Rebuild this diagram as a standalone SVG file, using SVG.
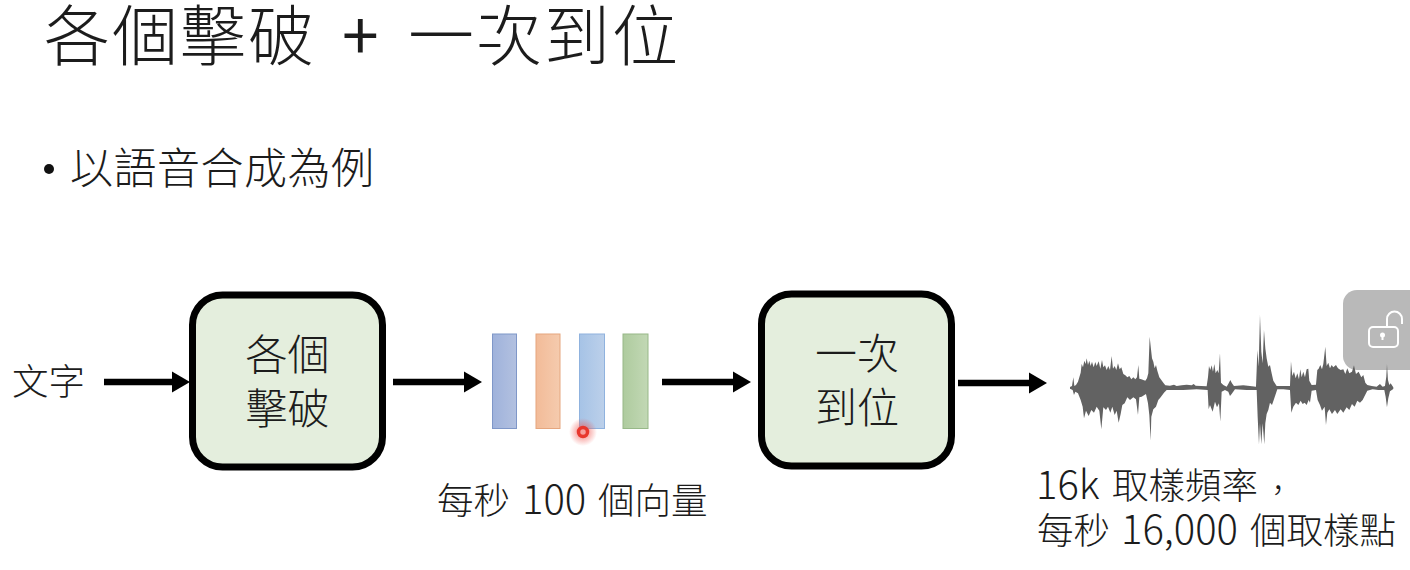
<svg xmlns="http://www.w3.org/2000/svg" width="1410" height="570" viewBox="0 0 1410 570">
<style>
text{font-family:"Noto Sans CJK TC","Noto Sans CJK SC",sans-serif;fill:#1c1c1c;font-weight:300}
.box{fill:#e4eedd;stroke:#000;stroke-width:7}
.node{font-size:42px;text-anchor:middle}
.lab{font-size:36.500px}
.num{font-size:40px}
.arr{stroke:#000;stroke-width:6.500;fill:none;marker-end:url(#ah)}
</style>
<defs>
<marker id="ah" markerUnits="userSpaceOnUse" markerWidth="19" markerHeight="22" refX="1" refY="11" orient="auto"><path d="M0 0.500L18 11L0 21.500Z" fill="#000"/></marker>
<linearGradient id="g1"><stop offset="0" stop-color="#9fb2db"/><stop offset="1" stop-color="#b3c1e0"/></linearGradient>
<linearGradient id="g2"><stop offset="0" stop-color="#f2bb98"/><stop offset="1" stop-color="#f5cbae"/></linearGradient>
<linearGradient id="g3"><stop offset="0" stop-color="#a6c3e6"/><stop offset="1" stop-color="#bcd0ea"/></linearGradient>
<linearGradient id="g4"><stop offset="0" stop-color="#aecb9e"/><stop offset="1" stop-color="#c2d8b5"/></linearGradient>
<radialGradient id="glow"><stop offset="0.3" stop-color="#f0504a" stop-opacity=".55"/><stop offset="1" stop-color="#f0504a" stop-opacity="0"/></radialGradient>
<filter id="soft" x="-5%" y="-5%" width="110%" height="110%"><feGaussianBlur stdDeviation="0.9"/></filter>
</defs>

<g id="title"><text x="44" y="60" font-size="66" letter-spacing="2">各個擊破</text><text x="342" y="60" font-size="66" style="font-weight:400">+</text><text x="408" y="60" font-size="66" letter-spacing="2">一次到位</text></g>
<g id="bullet"><circle cx="49" cy="169" r="5" fill="#111"/><text x="70" y="184" font-size="43" letter-spacing="0.500">以語音合成為例</text></g>

<g id="connectors">
<path class="arr" d="M104 382H173"/>
<path class="arr" d="M393 382H465"/>
<path class="arr" d="M662 382H734"/>
<path class="arr" d="M958 383H1030"/>
</g>

<g id="input"><text class="lab" x="12" y="395">文字</text></g>
<g id="node-a"><rect class="box" x="192.500" y="295" width="190" height="172" rx="30"/><text class="node" x="287.500" y="370">各個</text><text class="node" x="287.500" y="424">擊破</text></g>

<g id="vectors">
<rect x="492.500" y="334" width="24" height="94.500" fill="url(#g1)" stroke="#7f97c8"/>
<rect x="536" y="334" width="24" height="94.500" fill="url(#g2)" stroke="#e5a67e"/>
<rect x="579.500" y="334" width="25" height="94.500" fill="url(#g3)" stroke="#8fb2de"/>
<rect x="623" y="334" width="25" height="94.500" fill="url(#g4)" stroke="#97b888"/>
</g>
<g id="vector-label"><text class="lab" y="514"><tspan x="437">每秒</tspan><tspan x="522" class="num">100</tspan><tspan x="598">個向量</tspan></text></g>

<g id="node-b"><rect class="box" x="761.500" y="294" width="190" height="172" rx="30"/><text class="node" x="857" y="369">一次</text><text class="node" x="857" y="423">到位</text></g>

<g id="lock"><rect x="1343" y="290" width="90" height="80" rx="14" fill="#b9b9b9"/>
<path d="M1387 327V319a7.500 7.500 0 0 1 15 0V324" fill="none" stroke="#fff" stroke-width="2"/>
<rect x="1369" y="327" width="29" height="20" rx="4" fill="#b9b9b9" stroke="#fff" stroke-width="2"/>
<circle cx="1382.500" cy="335" r="2.500" fill="#fff"/><path d="M1381.500 336h2v4h-2z" fill="#fff"/></g>

<g id="waveform" transform="translate(1050 290) scale(.3333)">
<path filter="url(#soft)" fill="#626262" d="M60 291L66 288L70 262L73 288L78 285L84 275L88 262L92 248L95 222L99 232L103 212L107 222L110 205L114 225L118 212L122 228L126 215L131 232L136 216L140 228L146 214L151 236L156 210L160 232L165 226L170 240L175 228L180 240L185 198L189 236L194 228L199 240L204 220L209 238L214 232L220 252L226 256L232 262L238 258L244 268L250 262L256 268L261 262L265 225L268 266L274 268L280 270L286 272L291 265L295 250L299 140L303 178L306 205L310 215L314 235L318 225L322 242L328 262L334 270L340 278L346 286L360 287L372 284L380 288L395 286L410 284L425 286L431 282L437 287L470 289L474 262L477 228L481 240L485 226L489 245L493 222L497 250L502 240L506 250L510 190L513 278L520 285L530 290L536 280L541 270L546 280L552 288L580 286L600 288L618 290L620 240L622 180L626 230L630 75L634 185L638 220L642 120L646 175L650 205L655 230L660 225L664 245L670 272L680 288L700 288L720 288L723 214L727 258L732 245L737 265L742 250L747 268L751 238L755 262L760 245L765 262L770 238L775 236L778 272L785 285L798 284L802 240L806 236L811 225L816 238L820 222L826 170L830 228L835 218L840 235L845 225L850 232L858 225L864 235L872 240L880 238L886 252L892 235L898 250L906 245L912 226L918 252L926 245L934 262L940 255L946 278L952 285L965 288L980 290L990 282L998 290L1005 288L1009 260L1011 222L1014 270L1018 285L1022 280L1030 292L1030 297L1020 304L1015 325L1011 352L1007 320L1003 300L985 300L968 298L952 302L944 318L938 330L930 338L922 332L914 350L906 342L898 360L890 352L880 368L872 358L862 372L855 360L846 372L838 358L832 368L828 405L824 350L816 362L810 345L803 330L798 300L785 302L780 338L776 330L770 345L764 338L758 342L752 332L745 345L738 338L730 350L724 368L720 300L700 298L682 298L672 328L666 345L660 338L655 360L650 372L646 400L643 463L638 400L634 463L630 400L627 463L623 380L620 300L590 300L555 298L545 312L540 318L535 305L525 300L515 305L511 395L507 340L501 352L495 335L488 365L480 345L476 358L473 300L440 298L400 300L350 300L342 308L332 322L325 330L318 350L310 358L304 380L302 452L298 375L294 340L288 312L275 320L268 322L264 375L258 328L250 322L240 330L232 322L224 340L217 345L212 372L206 398L200 362L194 375L187 350L181 368L174 350L168 360L160 352L154 418L148 362L140 350L132 368L124 360L116 378L108 362L102 385L98 350L92 330L84 310L76 305L72 315L68 300L60 296Z"/>
</g>
<g id="wave-label"><text class="lab" y="499"><tspan x="1036" class="num">16k</tspan><tspan x="1112">取樣頻率</tspan><tspan x="1263" dy="2" font-size="30">，</tspan></text><text class="lab" y="544"><tspan x="1037">每秒</tspan><tspan x="1121" class="num">16,000</tspan><tspan x="1250">個取樣點</tspan></text></g>

<g id="pointer"><circle cx="583" cy="432" r="14" fill="url(#glow)"/><circle cx="583" cy="432" r="4.500" fill="none" stroke="#e8372d" stroke-width="3.500"/></g>
</svg>
